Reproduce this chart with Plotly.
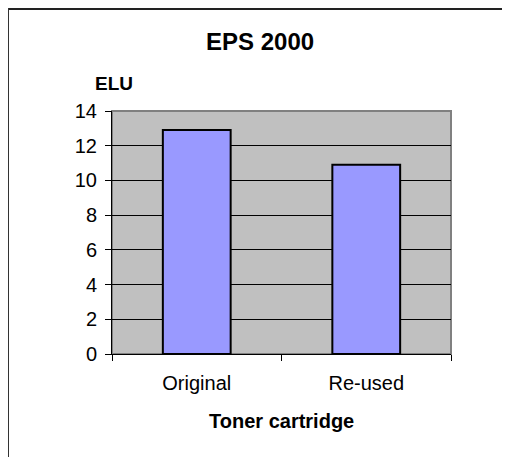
import plotly.graph_objects as go

categories = ["Original", "Re-used"]
values = [12.9, 10.9]
y_ticks = [0, 2, 4, 6, 8, 10, 12, 14]

# the page body adds an 8px margin, so the figure itself is 8px smaller
W, H = 502, 449
L, R, T, B = 104, 59, 103, 103
pw, ph = W - L - R, H - T - B


def px_x(x):
    return (x - L) / pw


def px_y(y):
    return (H - B - y) / ph


fig = go.Figure(go.Bar(
    x=categories,
    y=values,
    width=0.4,
    marker=dict(color="#9999ff", line=dict(color="black", width=2)),
))

fig.update_layout(
    width=W, height=H,
    margin=dict(l=L, r=R, t=T, b=B),
    paper_bgcolor="white",
    plot_bgcolor="#c0c0c0",
    showlegend=False,
    font=dict(family="Arial, Liberation Sans", size=20, color="black"),
)

fig.update_xaxes(
    showline=True, linecolor="black", linewidth=1,
    ticks="outside", tickson="boundaries", ticklen=6, tickcolor="black",
    showgrid=False, ticklabelstandoff=11,
)
fig.update_yaxes(
    range=[0, 14], tickvals=y_ticks,
    showline=True, linecolor="black", linewidth=1,
    ticks="outside", ticklen=6, tickcolor="black",
    showgrid=True, gridcolor="black", gridwidth=1,
    zeroline=False, ticklabelstandoff=4,
)

# plot area border (grey)
fig.add_shape(type="rect", xref="paper", yref="paper", x0=0, x1=1, y0=0, y1=1,
              line=dict(color="#808080", width=2), layer="below")
# outer chart frame: only the top and left edges are in view
fig.add_shape(type="line", xref="paper", yref="paper",
              x0=px_x(0), x1=px_x(W), y0=px_y(1), y1=px_y(1),
              line=dict(color="#222222", width=2))
fig.add_shape(type="line", xref="paper", yref="paper",
              x0=px_x(0), x1=px_x(0), y0=px_y(0), y1=px_y(H),
              line=dict(color="#333333", width=2))

fig.add_annotation(text="<b>EPS 2000</b>", xref="paper", yref="paper",
                   x=px_x(252), y=px_y(33), showarrow=False,
                   font=dict(size=24), xanchor="center", yanchor="middle")
fig.add_annotation(text="<b>ELU</b>", xref="paper", yref="paper",
                   x=px_x(106), y=px_y(75), showarrow=False,
                   font=dict(size=19), xanchor="center", yanchor="middle")
fig.add_annotation(text="<b>Toner cartridge</b>", xref="paper", yref="paper",
                   x=0.5, y=px_y(413), showarrow=False,
                   font=dict(size=20), xanchor="center", yanchor="middle")

fig.write_html("out.html")
